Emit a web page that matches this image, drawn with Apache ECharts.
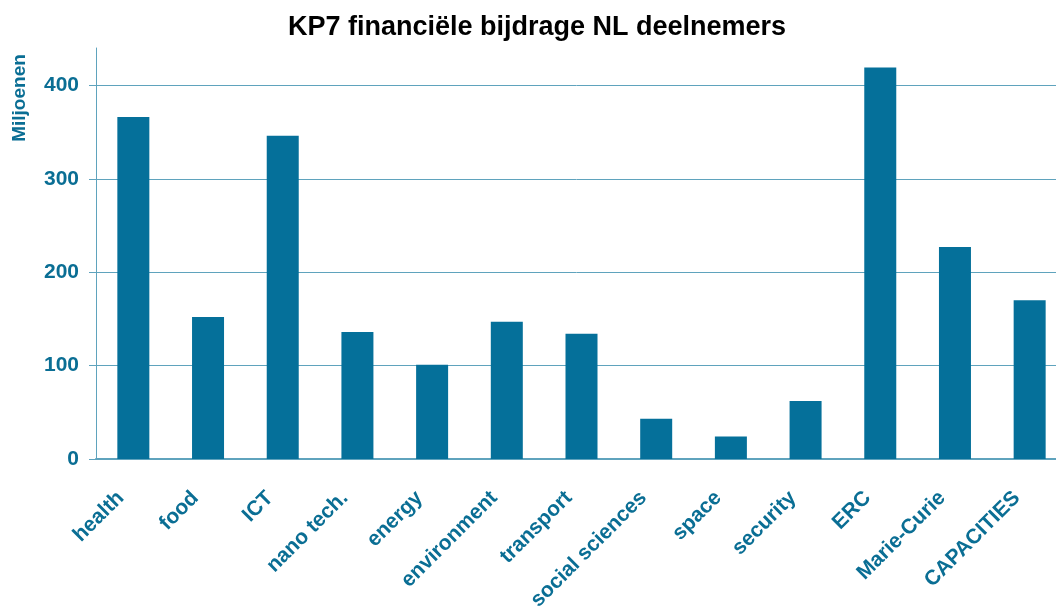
<!DOCTYPE html>
<html>
<head>
<meta charset="utf-8">
<script src="https://cdn.jsdelivr.net/npm/echarts@6/dist/echarts.min.js"></script>
<style>html,body{margin:0;padding:0;background:#fff}#c{width:1056px;height:608px}</style>
</head>
<body>
<div id="c"></div>
<script>
const categories = ['health','food','ICT','nano tech.','energy','environment','transport','social sciences','space','security','ERC','Marie-Curie','CAPACITIES'];
const values = [366, 152, 346, 136, 101, 147, 134, 43, 24, 62, 419, 227, 170];
const yTicks = [0, 100, 200, 300, 400];
const titleText = 'KP7 financiële bijdrage NL deelnemers';
const yName = 'Miljoenen';

const teal = '#05709a';
const textTeal = '#0a6e94';
const lineTeal = '#5fa3bd';
const font = 'Liberation Sans, Arial, sans-serif';

const chart = echarts.init(document.getElementById('c'), null, {renderer: 'canvas'});
chart.setOption({
  animation: false,
  backgroundColor: '#ffffff',
  title: {
    text: titleText,
    left: 532, textAlign: 'center',
    top: 9,
    textStyle: {fontFamily: font, fontWeight: 'bold', fontSize: 27, color: '#000'}
  },
  graphic: [{
    type: 'text',
    x: 20, y: 98,
    rotation: Math.PI / 2,
    style: {text: yName, fontFamily: font, fontWeight: 'bold', fontSize: 19, fill: textTeal, align: 'center', verticalAlign: 'middle'}
  }],
  grid: {left: 96, top: 48, width: 971, bottom: 149, outerBoundsMode: 'none', containLabel: false},
  xAxis: {
    type: 'category',
    data: categories,
    axisLine: {show: true, lineStyle: {color: lineTeal, width: 2}},
    axisTick: {show: false},
    axisLabel: {
      interval: 0,
      rotate: 45,
      margin: 23,
      align: 'right',
      verticalAlign: 'middle',
      padding: [0, 18, 0, 0],
      fontFamily: font, fontWeight: 'bold', fontSize: 21, color: textTeal
    }
  },
  yAxis: {
    type: 'value',
    min: 0, max: 440, interval: 100,
    axisLine: {show: true, lineStyle: {color: lineTeal, width: 1}},
    axisTick: {show: true, length: 7, customValues: yTicks, lineStyle: {color: lineTeal}},
    axisLabel: {customValues: yTicks, margin: 17, fontFamily: font, fontWeight: 'bold', fontSize: 21, color: textTeal},
    splitLine: {show: true, lineStyle: {color: lineTeal, width: 1}}
  },
  series: [{
    type: 'bar',
    data: values,
    barWidth: 32,
    itemStyle: {color: teal}
  }]
});
</script>
</body>
</html>
